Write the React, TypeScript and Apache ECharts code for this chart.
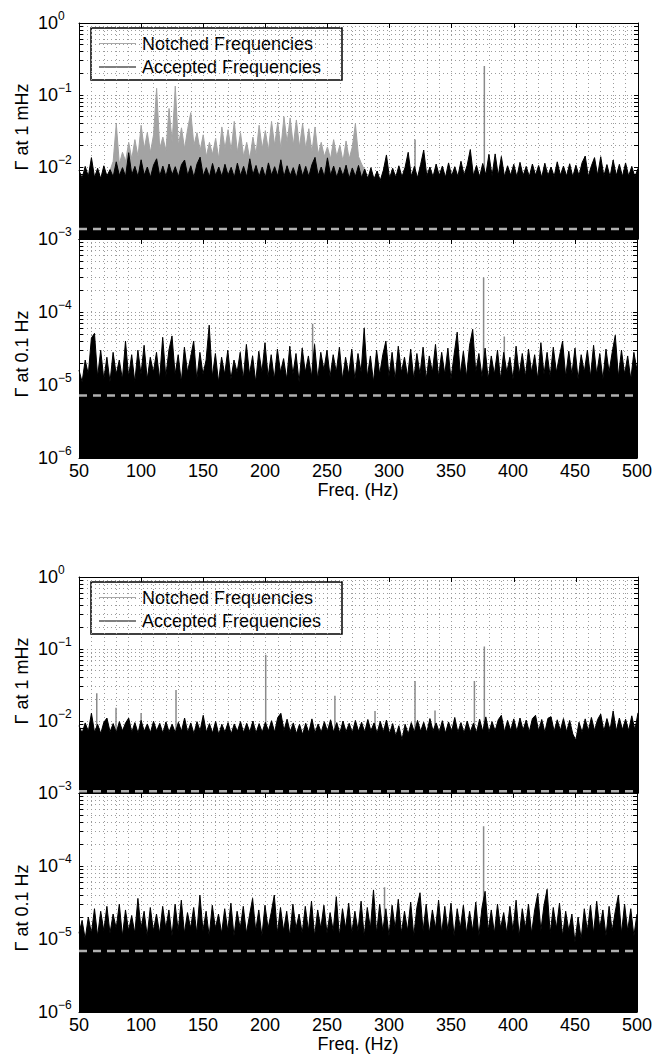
import React, { useEffect, useRef } from 'react';
import * as echarts from 'echarts';

// ---------- data ----------
const FREQ_START = 50; // Hz, first sample of the accepted-frequency traces
const FREQ_STEP = 2.5; // Hz between samples
const MILLI = 1e-3; // unit of the "1 mHz" panel arrays
const MICRO = 1e-6; // unit of the "0.1 Hz" panel arrays

// Figure 1, Γ at 1 mHz, accepted frequencies (units of 1e-3), 50..500 Hz
const fig1Accepted1mHz = [
  9.0, 7.0, 10.2, 7.4, 13.5, 7.2, 9.6, 6.9, 10.4, 7.5,
  9.2, 7.3, 11.8, 7.6, 9.8, 7.4, 15.8, 7.8, 10.2, 7.3,
  12.6, 7.7, 10.0, 7.2, 10.6, 13.0, 7.5, 10.3, 7.4, 11.0,
  7.8, 10.1, 7.3, 10.8, 12.5, 7.6, 10.4, 7.2, 11.0, 13.7,
  7.5, 9.8, 7.3, 11.2, 7.6, 10.0, 7.4, 10.9, 7.7, 9.9,
  7.2, 11.3, 7.6, 10.2, 7.3, 13.0, 7.8, 10.5, 7.4, 10.0,
  7.2, 11.4, 7.7, 10.1, 7.5, 12.6, 7.3, 10.4, 7.6, 9.8,
  7.1, 11.0, 7.5, 10.2, 7.4, 10.8, 13.6, 7.6, 10.0, 7.3,
  13.4, 7.7, 10.3, 7.2, 9.9, 7.5, 10.6, 7.0, 9.7, 7.4,
  10.5, 7.1, 9.4, 6.9, 9.8, 6.8, 8.8, 6.5, 9.0, 14.7,
  7.0, 9.6, 7.2, 10.4, 7.3, 9.9, 16.0, 7.4, 10.2, 7.1,
  10.8, 17.2, 7.5, 10.0, 7.3, 11.0, 7.6, 10.3, 7.2, 11.4,
  7.5, 10.1, 7.4, 12.0, 7.7, 10.6, 17.5, 7.6, 10.5, 7.3,
  11.2, 7.8, 15.0, 7.5, 15.2, 7.6, 14.0, 7.4, 10.4, 7.7,
  10.9, 7.3, 11.6, 7.6, 10.2, 7.4, 11.0, 7.7, 10.5, 7.2,
  11.3, 7.6, 10.0, 7.4, 11.8, 7.7, 10.3, 7.5, 11.1, 7.3,
  10.6, 7.6, 11.5, 14.2, 7.4, 10.4, 13.5, 7.7, 13.9, 7.5,
  10.8, 7.3, 12.5, 7.6, 10.9, 7.4, 11.4, 7.5, 10.2, 7.3,
  9.6,
];

// Figure 1, Γ at 1 mHz, dense notched band (units of 1e-3), 75..280 Hz
const fig1NotchedBandStart = 75;
const fig1NotchedBand1mHz = [
  9, 12, 40, 11, 16, 12, 22, 13, 24, 14,
  38, 18, 30, 16, 28, 124, 18, 26, 17, 65,
  22, 133, 20, 35, 18, 34, 57, 20, 30, 17,
  28, 14, 22, 15, 25, 13, 36, 18, 33, 17,
  43, 16, 30, 14, 22, 13, 26, 15, 38, 18,
  32, 17, 43, 20, 42, 18, 50, 22, 48, 20,
  45, 19, 40, 18, 34, 16, 36, 15, 22, 14,
  19, 13, 24, 14, 20, 12, 23, 13, 19, 40,
  14, 11, 9,
];
// isolated notched lines [Hz, Γ]
const fig1NotchedLines1mHz: [number, number][] = [[320.5, 0.024], [376.3, 0.253]];

// Figure 1, Γ at 0.1 Hz, accepted (units of 1e-6)
const fig1Accepted01Hz = [
  16, 11, 22, 14, 44, 51, 13, 30, 12, 24,
  11, 28, 14, 22, 12, 40, 13, 26, 11, 30,
  14, 35, 12, 24, 15, 28, 12, 45, 13, 30,
  47, 14, 26, 11, 33, 15, 24, 40, 12, 28,
  14, 22, 66, 13, 27, 11, 24, 14, 30, 12,
  22, 15, 28, 12, 36, 14, 25, 11, 29, 15,
  38, 13, 26, 12, 31, 15, 23, 12, 34, 14,
  27, 11, 32, 15, 25, 13, 36, 12, 28, 16,
  30, 13, 26, 15, 33, 12, 24, 14, 31, 12,
  27, 15, 60, 13, 25, 11, 30, 14, 26, 40,
  13, 28, 12, 34, 15, 24, 13, 31, 12, 27,
  14, 33, 12, 25, 15, 36, 13, 28, 14, 32,
  12, 26, 53, 14, 29, 13, 35, 58, 15, 27,
  13, 32, 12, 25, 14, 30, 12, 28, 15, 24,
  12, 34, 14, 27, 13, 31, 15, 26, 12, 38,
  14, 28, 13, 33, 15, 25, 40, 13, 29, 14,
  32, 12, 26, 15, 30, 13, 35, 14, 27, 12,
  31, 15, 28, 48, 13, 30, 14, 25, 12, 28,
  16,
];
const fig1NotchedLines01Hz: [number, number][] = [[238.4, 6.9e-5], [376.3, 2.98e-4], [393, 4.6e-5]];

// Figure 2, Γ at 1 mHz, accepted (units of 1e-3)
const fig2Accepted1mHz = [
  8.6, 6.8, 9.4, 7.2, 12.8, 7.0, 9.0, 6.7, 9.6, 11.0,
  7.1, 9.2, 6.9, 9.8, 7.3, 9.4, 11.0, 7.0, 9.5, 6.8,
  10.2, 7.2, 9.1, 6.9, 9.9, 7.3, 9.3, 6.8, 9.7, 7.1,
  9.0, 6.9, 9.6, 7.2, 11.0, 7.0, 9.4, 6.7, 9.8, 7.3,
  12.0, 7.0, 9.2, 6.8, 9.9, 6.5, 9.0, 7.0, 9.5, 6.6,
  9.1, 7.2, 9.8, 6.9, 9.3, 7.1, 10.0, 6.8, 9.2, 7.0,
  9.6, 7.3, 10.1, 7.0, 11.2, 12.8, 7.4, 10.6, 7.1, 9.4,
  6.7, 9.0, 6.5, 9.3, 6.9, 10.7, 6.8, 9.1, 7.0, 9.8,
  7.2, 10.4, 7.0, 9.5, 6.8, 10.0, 7.1, 9.3, 6.9, 10.2,
  7.2, 9.6, 7.0, 10.5, 7.3, 9.4, 6.8, 9.9, 7.1, 10.3,
  6.7, 9.2, 6.2, 8.6, 5.5, 9.0, 6.6, 9.5, 7.0, 10.2,
  7.2, 9.6, 6.9, 10.8, 7.3, 9.4, 7.0, 10.1, 6.8, 9.7,
  7.2, 11.2, 7.0, 9.5, 6.8, 10.0, 7.1, 9.3, 6.9, 10.6,
  7.2, 11.4, 7.0, 9.8, 7.3, 10.4, 12.0, 7.1, 10.2, 7.4,
  10.7, 7.2, 11.0, 7.5, 10.3, 7.1, 10.8, 12.0, 7.3, 10.5,
  7.0, 10.9, 11.5, 7.2, 10.4, 7.4, 10.8, 7.1, 10.2, 6.6,
  5.4, 9.6, 7.0, 10.7, 7.3, 11.2, 7.4, 10.5, 12.5, 7.2,
  10.8, 7.5, 13.8, 7.3, 11.0, 7.6, 10.6, 7.4, 11.8, 7.5,
  13.0,
];
const fig2NotchedLines1mHz: [number, number][] = [
  [64.3, 0.0243], [79.8, 0.0153], [100, 0.0129], [128.1, 0.027], [200.3, 0.083],
  [256, 0.0224], [288.3, 0.0138], [320.5, 0.036], [336.6, 0.014], [368.3, 0.036], [376.3, 0.108],
];

// Figure 2, Γ at 0.1 Hz, accepted (units of 1e-6)
const fig2Accepted01Hz = [
  12, 18, 10, 20, 12, 26, 11, 24, 13, 28,
  12, 22, 14, 30, 11, 25, 13, 21, 12, 36,
  14, 24, 11, 27, 13, 22, 12, 28, 14, 25,
  11, 30, 13, 34, 12, 23, 14, 27, 12, 40,
  13, 24, 11, 29, 14, 22, 12, 26, 13, 31,
  11, 24, 14, 28, 12, 21, 36, 13, 25, 11,
  29, 14, 23, 40, 12, 27, 13, 24, 11, 30,
  14, 22, 12, 28, 13, 33, 11, 25, 14, 29,
  12, 23, 13, 38, 11, 26, 14, 31, 12, 24,
  13, 33, 11, 27, 14, 47, 12, 30, 13, 26,
  11, 29, 14, 35, 12, 24, 13, 32, 11, 27,
  43, 13, 30, 12, 25, 14, 34, 12, 28, 13,
  31, 11, 26, 14, 29, 12, 24, 13, 32, 11,
  27, 45, 13, 25, 12, 30, 14, 23, 12, 28,
  13, 34, 11, 26, 14, 30, 12, 25, 42, 13,
  29, 48, 12, 27, 14, 31, 11, 24, 13, 22,
  9, 20, 10, 26, 13, 29, 12, 33, 14, 25,
  11, 28, 13, 24, 40, 12, 30, 13, 26, 11,
  22,
];
const fig2NotchedLines01Hz: [number, number][] = [[296.4, 5.1e-5], [376.3, 3.5e-4]];

// dashed reference levels [1 mHz panel, 0.1 Hz panel]
const fig1Thresholds = [1.38e-3, 7.2e-6];
const fig2Thresholds = [1.06e-3, 6.85e-6];

// axis ticks
const X_MIN = 50;
const X_MAX = 500;
const X_INTERVAL = 50;
const TOP_LABEL_DECADES = [1e-3, 1e-2, 1e-1, 1];
const BOTTOM_LABEL_DECADES = [1e-6, 1e-5, 1e-4];
const MANTISSAS = [1, 2, 3, 4, 5, 6, 7, 8, 9];

const LEGEND_NAMES = ['Notched Frequencies', 'Accepted Frequencies'];
const Y_NAMES = ['Γ at 1 mHz', 'Γ at 0.1 Hz'];
const X_NAME = 'Freq. (Hz)';

// ---------- styling ----------
const FONT = '"Liberation Sans", Arial, Helvetica, sans-serif';
const GREY = '#a3a3a3';
const GREY_LINE = '#8a8a8a';
const GRID_COLOR = '#9c9c9c';

function logTicks(min: number, max: number) {
  const out: number[] = [];
  const e0 = Math.round(Math.log10(min));
  const e1 = Math.round(Math.log10(max));
  for (let e = e0; e < e1; e++) {
    for (const m of MANTISSAS) out.push(Number((m * Math.pow(10, e)).toPrecision(6)));
  }
  out.push(max);
  return out;
}

function sampled(values: number[], unit: number, start: number) {
  return values.map((v, k) => [start + k * FREQ_STEP, v * unit]);
}

function lines(list: [number, number][], floor: number) {
  const out: any[] = [];
  list.forEach(([f, v]) => {
    out.push([f, floor], [f, v], [f, '-']);
  });
  return out;
}

const panels = [
  { top: 23, height: 216, yMin: 1e-3, yMax: 1, labels: TOP_LABEL_DECADES, showX: false,
    accepted: fig1Accepted1mHz, unit: MILLI, band: fig1NotchedBand1mHz, notched: fig1NotchedLines1mHz, threshold: fig1Thresholds[0] },
  { top: 239, height: 219, yMin: 1e-6, yMax: 1e-3, labels: BOTTOM_LABEL_DECADES, showX: true,
    accepted: fig1Accepted01Hz, unit: MICRO, band: null, notched: fig1NotchedLines01Hz, threshold: fig1Thresholds[1] },
  { top: 577, height: 216, yMin: 1e-3, yMax: 1, labels: TOP_LABEL_DECADES, showX: false,
    accepted: fig2Accepted1mHz, unit: MILLI, band: null, notched: fig2NotchedLines1mHz, threshold: fig2Thresholds[0] },
  { top: 793, height: 219, yMin: 1e-6, yMax: 1e-3, labels: BOTTOM_LABEL_DECADES, showX: true,
    accepted: fig2Accepted01Hz, unit: MICRO, band: null, notched: fig2NotchedLines01Hz, threshold: fig2Thresholds[1] },
];

function expLabel(v: number) {
  const e = Math.round(Math.log10(v));
  const s = e < 0 ? '\u2212' + -e : String(e);
  return '{b|10}{s|' + s + '}';
}

function legend(top: number) {
  return {
    type: 'group',
    z: 100,
    children: [
      { type: 'rect', shape: { x: 91, y: top, width: 251, height: 52 },
        style: { fill: '#fff', stroke: '#000', lineWidth: 1.5 } },
      { type: 'line', shape: { x1: 99, y1: top + 15.5, x2: 136, y2: top + 15.5 },
        style: { stroke: '#a8a8a8', lineWidth: 1.2 } },
      { type: 'text', x: 142, y: top + 15.5,
        style: { text: LEGEND_NAMES[0], fontSize: 18, fontFamily: FONT, fill: '#000', verticalAlign: 'middle', align: 'left' } },
      { type: 'line', shape: { x1: 99, y1: top + 39, x2: 136, y2: top + 39 },
        style: { stroke: '#000', lineWidth: 1.2 } },
      { type: 'text', x: 142, y: top + 39,
        style: { text: LEGEND_NAMES[1], fontSize: 18, fontFamily: FONT, fill: '#000', verticalAlign: 'middle', align: 'left' } },
    ],
  };
}

function yName(text: string, y: number) {
  return {
    type: 'text', x: 22, y, rotation: Math.PI / 2, z: 100,
    style: { text, fontSize: 18, fontFamily: FONT, fill: '#000', align: 'center', verticalAlign: 'middle' },
  };
}

function buildOption() {
  const grid: any[] = [];
  const xAxis: any[] = [];
  const yAxis: any[] = [];
  const series: any[] = [];

  panels.forEach((p, i) => {
    grid.push({ left: 79, right: 17, top: p.top, height: p.height, containLabel: false });
    const gridLine = { type: [1, 3], color: GRID_COLOR, width: 1 };
    xAxis.push({
      type: 'value', gridIndex: i, min: X_MIN, max: X_MAX, interval: X_INTERVAL, position: 'bottom',
      axisLine: { show: true, onZero: false, lineStyle: { color: '#000', width: 1 } },
      axisTick: { show: true, inside: true, length: 5, lineStyle: { color: '#000' } },
      axisLabel: { show: p.showX, fontSize: 18, fontFamily: FONT, color: '#000', margin: 4 },
      splitLine: { show: true, lineStyle: gridLine },
      minorTick: { show: false, splitNumber: 5 },
      minorSplitLine: { show: true, lineStyle: gridLine },
      name: p.showX ? X_NAME : '', nameLocation: 'middle', nameGap: 21,
      nameTextStyle: { fontSize: 18, fontFamily: FONT, color: '#000' },
    });
    xAxis.push({
      type: 'value', gridIndex: i, min: X_MIN, max: X_MAX, interval: X_INTERVAL, position: 'top',
      axisLine: { show: true, onZero: false, lineStyle: { color: '#000', width: 1 } },
      axisTick: { show: true, inside: true, length: 5, lineStyle: { color: '#000' } },
      axisLabel: { show: false }, splitLine: { show: false },
    });
    const ticks = logTicks(p.yMin, p.yMax);
    yAxis.push({
      type: 'log', logBase: 10, gridIndex: i, min: p.yMin, max: p.yMax, position: 'left',
      axisLine: { show: true, onZero: false, lineStyle: { color: '#000', width: 1 } },
      axisTick: { show: true, inside: true, length: 4, customValues: ticks, lineStyle: { color: '#000' } },
      axisLabel: {
        show: true, customValues: p.labels, formatter: expLabel, align: 'left', margin: 41,
        showMinLabel: true, showMaxLabel: true,
        rich: {
          b: { fontSize: 18, fontFamily: FONT, color: '#000', lineHeight: 26, verticalAlign: 'middle' },
          s: { fontSize: 12, fontFamily: FONT, color: '#000', lineHeight: 12, verticalAlign: 'top' },
        },
      },
      splitLine: { show: true, lineStyle: gridLine },
    });
    yAxis.push({
      type: 'log', logBase: 10, gridIndex: i, min: p.yMin, max: p.yMax, position: 'right',
      axisLine: { show: true, onZero: false, lineStyle: { color: '#000', width: 1 } },
      axisTick: { show: true, inside: true, length: 4, customValues: ticks, lineStyle: { color: '#000' } },
      axisLabel: { show: false }, splitLine: { show: false },
    });

    const xi = 2 * i;
    const yi = 2 * i;
    if (p.band) {
      series.push({
        name: LEGEND_NAMES[0], type: 'line', xAxisIndex: xi, yAxisIndex: yi, z: 2, silent: true,
        symbol: 'none', data: sampled(p.band, p.unit, fig1NotchedBandStart),
        lineStyle: { color: GREY, width: 1 }, areaStyle: { color: GREY, opacity: 1, origin: 'start' },
      });
    }
    series.push({
      name: LEGEND_NAMES[0], type: 'line', xAxisIndex: xi, yAxisIndex: yi, z: 2, silent: true,
      symbol: 'none', connectNulls: false, data: lines(p.notched, p.yMin),
      lineStyle: { color: GREY_LINE, width: 1.5 },
    });
    series.push({
      name: LEGEND_NAMES[1], type: 'line', xAxisIndex: xi, yAxisIndex: yi, z: 3, silent: true,
      symbol: 'none', data: sampled(p.accepted, p.unit, FREQ_START),
      lineStyle: { color: '#000', width: 1 }, areaStyle: { color: '#000', opacity: 1, origin: 'start' },
    });
    series.push({
      type: 'line', xAxisIndex: xi, yAxisIndex: yi, z: 5, silent: true, symbol: 'none',
      data: [[X_MIN, p.threshold], [X_MAX, p.threshold]],
      lineStyle: { color: '#b0b0b0', width: 2.5, type: [8, 6] },
    });
  });

  return {
    animation: false,
    backgroundColor: '#fff',
    textStyle: { fontFamily: FONT },
    grid, xAxis, yAxis, series,
    graphic: [
      legend(28), legend(582),
      yName(Y_NAMES[0], 127), yName(Y_NAMES[1], 354),
      yName(Y_NAMES[0], 681), yName(Y_NAMES[1], 908),
    ],
  };
}

export default function App() {
  const ref = useRef<HTMLDivElement>(null);
  useEffect(() => {
    const chart = echarts.init(ref.current!, null, { renderer: 'svg' });
    chart.setOption(buildOption() as any);
    return () => chart.dispose();
  }, []);
  return (
    <div
      ref={ref}
      style={{ position: 'absolute', left: 0, top: 0, width: 655, height: 1057, background: '#fff' }}
    />
  );
}
